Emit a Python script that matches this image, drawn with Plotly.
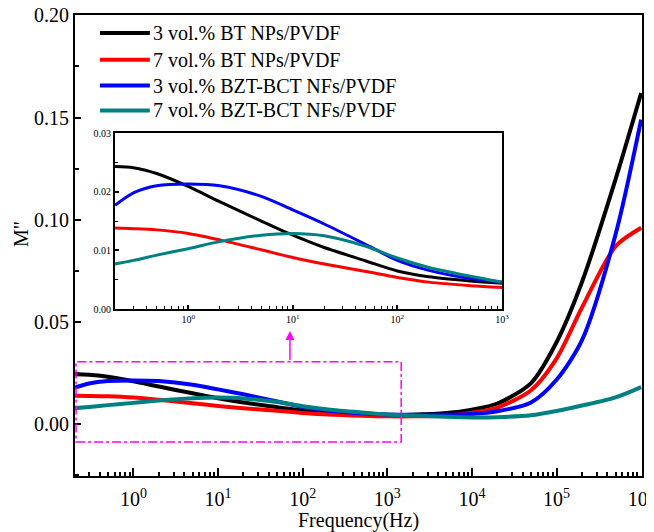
import plotly.graph_objects as go

# 频率 (Hz)
freq = [0.2, 0.3, 0.5, 1, 2, 5, 10, 20, 50, 100, 200, 500, 1000, 2000, 5000,
        1e4, 2e4, 5e4, 1e5, 2e5, 5e5, 1e6]

# M'' 数据
m_bt3 = [0.0243, 0.0241, 0.0231, 0.0209, 0.0183, 0.0150, 0.0126, 0.0105, 0.0082, 0.0065, 0.0055,
         0.0048, 0.0044, 0.0045, 0.0053, 0.0070, 0.0100, 0.0200, 0.0400, 0.0695, 0.1200, 0.1620]
m_bt7 = [0.0138, 0.0137, 0.0135, 0.0129, 0.0118, 0.0101, 0.0088, 0.0077, 0.0064, 0.0054, 0.0046,
         0.0040, 0.0037, 0.0037, 0.0041, 0.0055, 0.0080, 0.0165, 0.0320, 0.0570, 0.0870, 0.0960]
m_nf3 = [0.0177, 0.0198, 0.0210, 0.0213, 0.0210, 0.0192, 0.0169, 0.0145, 0.0110, 0.0083, 0.0066,
         0.0052, 0.0046, 0.0045, 0.0045, 0.0049, 0.0062, 0.0105, 0.0216, 0.0410, 0.0930, 0.1490]
m_nf7 = [0.0077, 0.0083, 0.0092, 0.0103, 0.0115, 0.0126, 0.0129, 0.0125, 0.0107, 0.0087, 0.0071,
         0.0056, 0.0046, 0.0041, 0.0035, 0.0032, 0.0033, 0.0042, 0.0063, 0.0090, 0.0130, 0.0180]

names = ['3 vol.% BT NPs/PVDF', '7 vol.% BT NPs/PVDF',
         '3 vol.% BZT-BCT NFs/PVDF', '7 vol.% BZT-BCT NFs/PVDF']
colors = ['#000000', '#ff0000', '#0000ff', '#008080']
series = [m_bt3, m_bt7, m_nf3, m_nf7]

# 刻度
main_xtick_vals = [1, 10, 100, 1000, 1e4, 1e5, 1e6]
main_xtick_text = ['10<sup>0</sup>', '10<sup>1</sup>', '10<sup>2</sup>', '10<sup>3</sup>',
                   '10<sup>4</sup>', '10<sup>5</sup>', '10<sup>6</sup>']
inset_xtick_vals = [1, 10, 100, 1000]
inset_xtick_text = ['10<sup>0</sup>', '10<sup>1</sup>', '10<sup>2</sup>', '10<sup>3</sup>']

FONT = 'Liberation Serif, Times New Roman, serif'

fig = go.Figure()

# 主图
for name, color, ys in zip(names, colors, series):
    fig.add_trace(go.Scatter(
        x=freq, y=ys, mode='lines', name=name, showlegend=False,
        line=dict(color=color, width=4, shape='spline', smoothing=0.8),
        xaxis='x', yaxis='y',
    ))

# 放大插图
for name, color, ys in zip(names, colors, series):
    fig.add_trace(go.Scatter(
        x=freq[:13], y=ys[:13], mode='lines', name=name, showlegend=False,
        line=dict(color=color, width=3, shape='spline', smoothing=0.8),
        xaxis='x2', yaxis='y2',
    ))

axis_common = dict(showline=True, linecolor='black', mirror=True, showgrid=False,
                   zeroline=False, ticks='inside', tickcolor='black', automargin=False)

# 页面 body 有 8px 外边距，整体尺寸相应缩小
fig.update_layout(
    width=646, height=524,
    plot_bgcolor='white', paper_bgcolor='white',
    font=dict(family=FONT, color='black', size=20),
    margin=dict(l=67, r=12, t=7, b=56),
    showlegend=False,
    xaxis=dict(
        **axis_common, type='log', range=[-0.69, 6.01],
        linewidth=2, ticklen=8, tickwidth=2, ticklabeloverflow='allow',
        ticklabelstandoff=4,
        tickvals=main_xtick_vals, ticktext=main_xtick_text,
        minor=dict(ticks='inside', ticklen=4, tickwidth=1.5, dtick='D1', showgrid=False),
    ),
    yaxis=dict(
        **axis_common, range=[-0.0255, 0.2002],
        linewidth=2, ticklen=6, tickwidth=2, ticklabeloverflow='allow',
        dtick=0.05, tickformat='.2f',
        minor=dict(ticks='inside', ticklen=4, tickwidth=1.5, dtick=0.025, showgrid=False),
    ),
    xaxis2=dict(
        **axis_common, type='log', range=[-0.7, 3.0], anchor='y2',
        domain=[0.0705, 0.753], linewidth=2, ticklen=4, tickwidth=1.5,
        tickvals=inset_xtick_vals, ticktext=inset_xtick_text,
        tickfont=dict(size=10),
        minor=dict(ticks='inside', ticklen=3, tickwidth=1.2, dtick='D1', showgrid=False),
    ),
    yaxis2=dict(
        **axis_common, range=[0, 0.03], anchor='x2',
        domain=[0.362, 0.744], linewidth=2, ticklen=4, tickwidth=1.5,
        dtick=0.01, tickformat='.2f', tickfont=dict(size=10),
        minor=dict(ticks='inside', ticklen=3, tickwidth=1.2, dtick=0.005, showgrid=False),
    ),
)

# 坐标轴标题
fig.add_annotation(xref='paper', yref='paper', x=0.5, y=-0.097, text='Frequency(Hz)',
                   showarrow=False, xanchor='center', yanchor='middle', font=dict(size=20))
fig.add_annotation(xref='paper', yref='paper', x=-0.095, y=0.525, text='M"', textangle=-90,
                   showarrow=False, xanchor='center', yanchor='middle', font=dict(size=20))

# 图例（手动绘制，线段更长、行距更紧）
legend_rows = [0.961, 0.903, 0.847, 0.793]
for name, color, yy in zip(names, colors, legend_rows):
    fig.add_shape(type='line', xref='paper', yref='paper', x0=0.044, x1=0.132, y0=yy, y1=yy,
                  line=dict(color=color, width=4))
    fig.add_annotation(xref='paper', yref='paper', x=0.134, y=yy, text=name, showarrow=False,
                       xanchor='left', yanchor='middle', font=dict(size=20))

# 局部放大框与箭头
fig.add_shape(type='rect', xref='x', yref='y', x0=0.21, x1=1460, y0=-0.0088, y1=0.0304,
              line=dict(color='#ff00ff', width=1.5, dash='dashdot'))
fig.add_annotation(xref='x', yref='y', axref='x', ayref='y',
                   x=1.85, y=0.0455, ax=1.85, ay=0.0304, text='',
                   showarrow=True, arrowhead=2, arrowsize=1.2, arrowwidth=1.5,
                   arrowcolor='#ff00ff')

fig.write_html("out.html")
